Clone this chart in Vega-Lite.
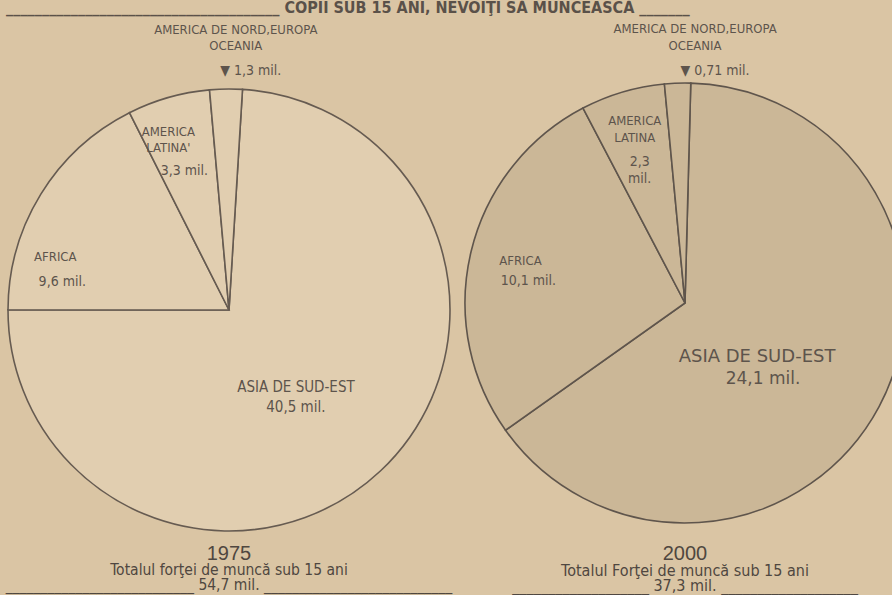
{
  "$schema": "https://vega.github.io/schema/vega-lite/v6.json",
  "padding": 0,
  "spacing": 0,
  "background": "#dac5a4",
  "title": {
    "text": "______________________________________ COPII SUB 15 ANI, NEVOIŢI SĂ MUNCEASCĂ _______",
    "anchor": "start",
    "frame": "group",
    "offset": -26,
    "dx": 6,
    "baseline": "alphabetic",
    "font": "DejaVu Sans Condensed, Liberation Sans Narrow, sans-serif",
    "fontWeight": "bold",
    "fontSize": 16,
    "color": "#5a5149"
  },
  "config": {
    "view": {"stroke": null},
    "title": {
      "font": "Liberation Sans, sans-serif",
      "fontSize": 20,
      "fontWeight": "normal",
      "color": "#4f4740",
      "subtitleFont": "DejaVu Sans Condensed, Liberation Sans Narrow, sans-serif",
      "subtitleColor": "#4f4740",
      "subtitleLineHeight": 15,
      "subtitlePadding": -1
    }
  },
  "datasets": {
    "y1975": [
      {"key": "asia", "order": 1, "name": "ASIA DE SUD-EST", "amount": "40,5 mil.", "value": 40.5},
      {"key": "africa", "order": 2, "name": "AFRICA", "amount": "9,6 mil.", "value": 9.6},
      {"key": "latam", "order": 3, "name": "AMERICA\nLATINA'", "amount": "3,3 mil.", "value": 3.3},
      {"key": "nao", "order": 4, "name": "AMERICA DE NORD,EUROPA\nOCEANIA", "amount": "▼ 1,3 mil.", "value": 1.3}
    ],
    "y2000": [
      {"key": "asia", "order": 1, "name": "ASIA DE SUD-EST", "amount": "24,1 mil.", "value": 24.1},
      {"key": "africa", "order": 2, "name": "AFRICA", "amount": "10,1 mil.", "value": 10.1},
      {"key": "latam", "order": 3, "name": "AMERICA\nLATINA", "amount": "2,3\nmil.", "value": 2.3},
      {"key": "nao", "order": 4, "name": "AMERICA DE NORD,EUROPA\nOCEANIA", "amount": "▼ 0,71 mil.", "value": 0.71}
    ]
  },
  "hconcat": [
    {
      "width": 458,
      "height": 614,
      "data": {"name": "y1975"},
      "title": {
        "text": "1975",
        "subtitle": ["Totalul forţei de muncă sub 15 ani", "___________________________ 54,7 mil. ___________________________"],
        "subtitleFontSize": 15.5,
        "orient": "bottom",
        "offset": -73,
        "anchor": "middle",
        "frame": "group"
      },
      "encoding": {
        "theta": {"field": "value", "type": "quantitative", "stack": true, "scale": {"range": [0.0611, 6.3443], "nice": false}},
        "order": {"field": "order", "type": "quantitative"}
      },
      "layer": [
        {"mark": {"type": "arc", "outerRadius": 221, "fill": "#e1ceb0", "stroke": "#665b51", "strokeWidth": 1.6}},
        {
          "mark": {
            "type": "text",
            "lineBreak": "\n",
            "lineHeight": 16,
            "color": "#5d544c",
            "baseline": "middle",
            "align": "center",
            "font": "DejaVu Sans Condensed, Liberation Sans Narrow, sans-serif",
            "fontSize": {"expr": "datum.key==='asia'?15:13"},
            "radius": {"expr": "datum.key==='asia'?105:datum.key==='africa'?170:datum.key==='latam'?170:235"},
            "dx": {"expr": "datum.key==='asia'?-5:datum.key==='africa'?-29:datum.key==='latam'?-14:10"},
            "dy": {"expr": "datum.key==='asia'?0:datum.key==='africa'?36:datum.key==='latam'?-15:-45"}
          },
          "encoding": {"text": {"field": "name"}}
        },
        {
          "mark": {
            "type": "text",
            "lineBreak": "\n",
            "lineHeight": 16,
            "color": "#5d544c",
            "baseline": "middle",
            "align": "center",
            "font": "DejaVu Sans Condensed, Liberation Sans Narrow, sans-serif",
            "fontSize": {"expr": "datum.key==='asia'?15:14"},
            "radius": {"expr": "datum.key==='asia'?105:datum.key==='africa'?170:datum.key==='latam'?170:235"},
            "dx": {"expr": "datum.key==='asia'?-5:datum.key==='africa'?-22:datum.key==='latam'?2:25"},
            "dy": {"expr": "datum.key==='asia'?20:datum.key==='africa'?61:datum.key==='latam'?24:-4"}
          },
          "encoding": {"text": {"field": "amount"}}
        }
      ]
    },
    {
      "width": 454,
      "height": 600,
      "data": {"name": "y2000"},
      "title": {
        "text": "2000",
        "subtitle": ["Totalul Forţei de muncă sub 15 ani", "___________________ 37,3 mil. ___________________"],
        "subtitleFontSize": 16,
        "orient": "bottom",
        "offset": -59,
        "anchor": "middle",
        "frame": "group"
      },
      "encoding": {
        "theta": {"field": "value", "type": "quantitative", "stack": true, "scale": {"range": [0.0262, 6.3094], "nice": false}},
        "order": {"field": "order", "type": "quantitative"}
      },
      "layer": [
        {"mark": {"type": "arc", "outerRadius": 220, "fill": "#cbb797", "stroke": "#5f554c", "strokeWidth": 1.6}},
        {
          "mark": {
            "type": "text",
            "lineBreak": "\n",
            "lineHeight": 17,
            "color": "#5d544c",
            "baseline": "middle",
            "align": "center",
            "font": {"expr": "datum.key==='asia'?'DejaVu Sans, sans-serif':'DejaVu Sans Condensed, Liberation Sans Narrow, sans-serif'"},
            "fontSize": {"expr": "datum.key==='asia'?18:13"},
            "radius": {"expr": "datum.key==='asia'?110:datum.key==='africa'?160:datum.key==='latam'?170:235"},
            "dx": {"expr": "datum.key==='asia'?-25:datum.key==='africa'?-9:datum.key==='latam'?-2:18"},
            "dy": {"expr": "datum.key==='asia'?2:datum.key==='africa'?-5:datum.key==='latam'?-19:-39"}
          },
          "encoding": {"text": {"field": "name"}}
        },
        {
          "mark": {
            "type": "text",
            "lineBreak": "\n",
            "lineHeight": 17,
            "color": "#5d544c",
            "baseline": "middle",
            "align": "center",
            "font": {"expr": "datum.key==='asia'?'DejaVu Sans, sans-serif':'DejaVu Sans Condensed, Liberation Sans Narrow, sans-serif'"},
            "fontSize": {"expr": "datum.key==='asia'?17:14"},
            "radius": {"expr": "datum.key==='asia'?110:datum.key==='africa'?160:datum.key==='latam'?170:235"},
            "dx": {"expr": "datum.key==='asia'?-19:datum.key==='africa'?-1:datum.key==='latam'?3:38"},
            "dy": {"expr": "datum.key==='asia'?24:datum.key==='africa'?15:datum.key==='latam'?22:3"}
          },
          "encoding": {"text": {"field": "amount"}}
        }
      ]
    }
  ]
}
